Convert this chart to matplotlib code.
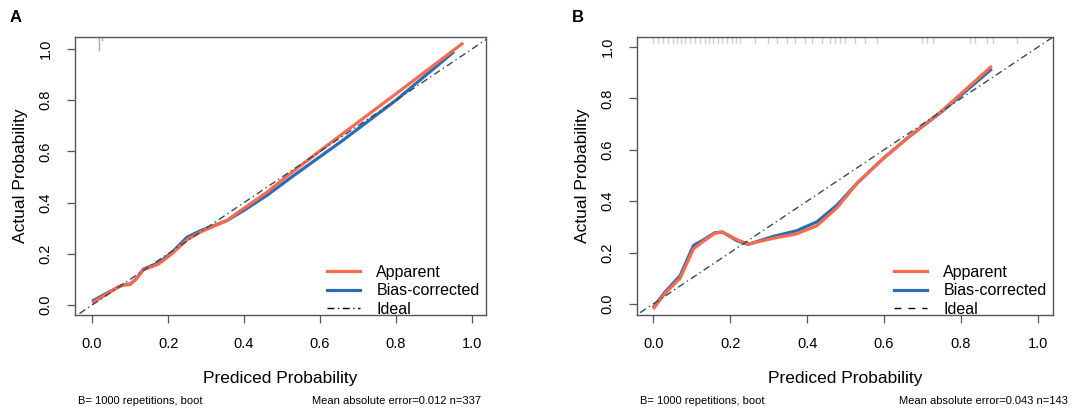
import numpy as np
import matplotlib.pyplot as plt

plt.rcParams['font.family'] = ['Liberation Sans', 'DejaVu Sans']

# panel A: calibration curves (predicted, actual)
a_app_x = [0.0, 0.047, 0.07, 0.085, 0.1, 0.115, 0.135, 0.175, 0.21, 0.25, 0.285,
           0.355, 0.39, 0.46, 0.51, 0.62, 0.8, 0.977]
a_app_y = [0.008, 0.05, 0.072, 0.078, 0.08, 0.1, 0.137, 0.16, 0.2, 0.255, 0.285,
           0.33, 0.368, 0.44, 0.5, 0.625, 0.825, 1.024]
a_bc_x = [0.0, 0.05, 0.08, 0.1, 0.115, 0.135, 0.175, 0.21, 0.25, 0.285, 0.355,
          0.4, 0.46, 0.53, 0.657, 0.8, 0.953]
a_bc_y = [0.015, 0.055, 0.078, 0.082, 0.1, 0.14, 0.165, 0.205, 0.265, 0.29, 0.33,
          0.37, 0.428, 0.505, 0.64, 0.8, 0.99]
a_rug_x = [0.018, 0.026]
a_rug_len = [0.047, 0.011]

# panel B
b_app_x = [0.0, 0.03, 0.07, 0.105, 0.127, 0.16, 0.18, 0.218, 0.247, 0.31, 0.373,
           0.426, 0.478, 0.53, 0.597, 0.66, 0.753, 0.88]
b_app_y = [-0.02, 0.04, 0.10, 0.215, 0.24, 0.275, 0.28, 0.25, 0.233, 0.255, 0.273,
           0.305, 0.375, 0.47, 0.565, 0.645, 0.755, 0.926]
b_bc_x = b_app_x
b_bc_y = [-0.015, 0.045, 0.11, 0.228, 0.246, 0.277, 0.28, 0.246, 0.232, 0.262, 0.285,
          0.32, 0.385, 0.47, 0.565, 0.645, 0.752, 0.915]
b_rug_x = [0.0, 0.013, 0.026, 0.039, 0.052, 0.062, 0.073, 0.083, 0.096, 0.109,
           0.122, 0.135, 0.145, 0.156, 0.169, 0.179, 0.192, 0.205, 0.216, 0.226,
           0.265, 0.299, 0.322, 0.348, 0.369, 0.395, 0.413, 0.439, 0.46, 0.473,
           0.486, 0.499, 0.525, 0.551, 0.582, 0.699, 0.712, 0.727, 0.823, 0.836,
           0.868, 0.883, 0.945]
b_rug_len = [0.02] * len(b_rug_x)

panels = [
    dict(label='A', app=(a_app_x, a_app_y), bc=(a_bc_x, a_bc_y), rug=(a_rug_x, a_rug_len),
         rug_c='#AAAAAA', ideal_ls=(0, (5, 2.5, 1, 2.5)), mae='Mean absolute error=0.012 n=337',
         box=[75, 37, 486, 315], xlim=(-0.045, 1.037), ylim=(-0.039, 1.047)),
    dict(label='B', app=(b_app_x, b_app_y), bc=(b_bc_x, b_bc_y), rug=(b_rug_x, b_rug_len),
         rug_c='#D0D0D0', ideal_ls=(0, (5, 5)), mae='Mean absolute error=0.043 n=143',
         box=[637, 37, 1053, 315], xlim=(-0.042, 1.039), ylim=(-0.043, 1.039)),
]

W, H = 1074, 412
red = '#FA6A4E'
blue = '#2A6DB5'
ideal_c = '#2F4F4F'
box_c = '#555555'

fig = plt.figure(figsize=(W / 100, H / 100), dpi=100)
for p in panels:
    l, t, r, b = p['box']
    ax = fig.add_axes([l / W, 1 - b / H, (r - l) / W, (b - t) / H])
    ax.set_xlim(*p['xlim'])
    ax.set_ylim(*p['ylim'])
    ideal = np.array([-0.1, 1.1])
    ax.plot(ideal, ideal, color=ideal_c, lw=1.0, linestyle=(0, (5, 2.5, 1, 2.5)), zorder=4)
    ax.plot(*p['bc'], color=blue, lw=2.3, zorder=2, solid_capstyle='butt')
    ax.plot(*p['app'], color=red, lw=2.3, zorder=3, solid_capstyle='butt')
    for xr, ln in zip(*p['rug']):
        ax.plot([xr, xr], [1, 1 - ln], transform=ax.get_xaxis_transform(),
                color=p['rug_c'], lw=1.0, zorder=1)
    ax.set_xticks([0, 0.2, 0.4, 0.6, 0.8, 1.0])
    ax.set_yticks([0, 0.2, 0.4, 0.6, 0.8, 1.0])
    ax.set_xticklabels(['0.0', '0.2', '0.4', '0.6', '0.8', '1.0'])
    ax.set_yticklabels(['0.0', '0.2', '0.4', '0.6', '0.8', '1.0'], rotation=90, va='center')
    ax.tick_params(axis='both', length=6, width=0.9, color=box_c, labelsize=10.5, pad=10)
    for s in ax.spines.values():
        s.set_color(box_c)
        s.set_linewidth(1.0)

    # legend
    handles = [plt.Line2D([], [], color=red, lw=2.3),
               plt.Line2D([], [], color=blue, lw=2.3),
               plt.Line2D([], [], color='black', lw=1.0, linestyle=p['ideal_ls'])]
    ax.legend(handles, ['Apparent', 'Bias-corrected', 'Ideal'], loc='lower right',
              frameon=False, fontsize=11.5, handlelength=2.1, handletextpad=1.0,
              labelspacing=0.22, borderaxespad=0.0, bbox_to_anchor=(1.0, -0.03))

    cx = (l + r) / 2
    fig.text(cx / W, 1 - 378 / H, 'Prediced Probability', ha='center', va='center', fontsize=12.5)
    fig.text((l - 54) / W, 1 - 176 / H, 'Actual Probability', ha='center', va='center',
             rotation=90, fontsize=12.5)
    fig.text((l + 3) / W, 1 - 401 / H, 'B= 1000 repetitions, boot', ha='left', va='center',
             fontsize=8)
    fig.text((r + 15 if p['label'] == 'B' else r - 5) / W, 1 - 401 / H, p['mae'],
             ha='right', va='center', fontsize=8)
    fig.text((l - 65) / W, 1 - 18 / H, p['label'], ha='left', va='center',
             fontsize=12, fontweight='bold')

fig.savefig('out.png', dpi=100)
